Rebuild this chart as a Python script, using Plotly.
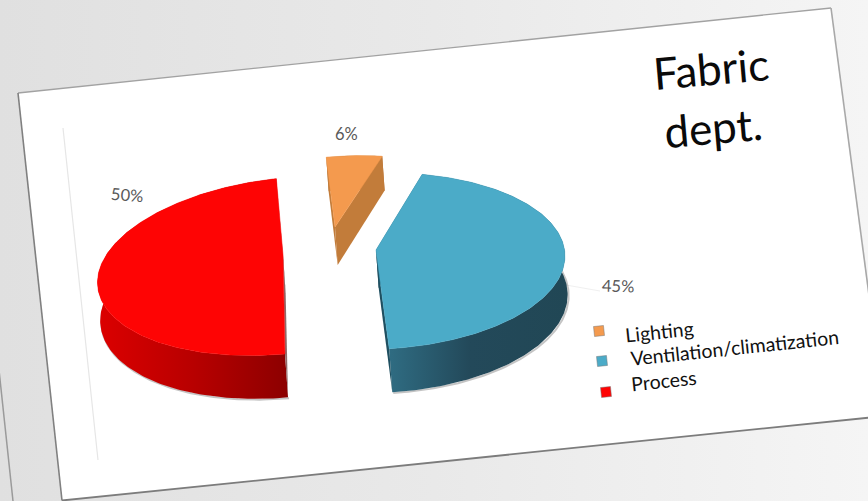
import math
import plotly.graph_objects as go

# Chart content
categories = ["Lighting", "Ventilation/climatization", "Process"]
shares = [6, 45, 50]
value_labels = ["6%", "45%", "50%"]
title_lines = ["Fabric", "dept."]

# Projection of the tilted pie onto the slide (pixel space)
W, H = 868, 501
RX, RY = 190.0, 88.0      # radii of the pie disc
PERSP = 0.128             # nearer edge of the disc draws larger
DEPTH = 38.0              # thickness of the pie

# Per-slice exploded centre, angle correction, disc scale and tilt
slice_view = [
    dict(cx=335, cy=227, dang=-1.0, scale=0.89, tilt=5.0),
    dict(cx=376, cy=250, dang=-4.4, scale=0.985, tilt=2.0),
    dict(cx=283, cy=255, dang=0.7, scale=0.98, tilt=6.5),
]
top_colors = ["#f49a4e", "#4babc8", "#fe0404"]
side_scales = [
    [[0, "#c27c3a"], [1, "#b87436"]],
    [[0, "#2f6c82"], [0.45, "#23495a"], [1, "#214755"]],
    [[0, "#dc0000"], [0.5, "#b80000"], [1, "#8c0000"]],
]
edge_colors = ["#c27c3a", "#1f4f60", "#8f6a6a"]


def project(view, theta_deg, r):
    th = math.radians(theta_deg + view["dang"])
    X = r * view["scale"] * math.sin(th)
    Y = -r * view["scale"] * math.cos(th)
    s = 1.0 / (1.0 - PERSP * Y)
    x, y = RX * X * s, RY * Y * s
    t = math.radians(view["tilt"])
    c, sn = math.cos(t), math.sin(t)
    return view["cx"] + x * c + y * sn, view["cy"] - x * sn + y * c, s


def drop(pt):
    x, y, s = pt
    return x + DEPTH * s * 0.07, y + DEPTH * s


def poly(points, **kw):
    xs = [p[0] for p in points] + [points[0][0]]
    ys = [p[1] for p in points] + [points[0][1]]
    return go.Scatter(x=xs, y=ys, mode="lines", fill="toself",
                      hoverinfo="skip", showlegend=False, **kw)


def stroke(points, color, width):
    return go.Scatter(x=[p[0] for p in points], y=[p[1] for p in points], mode="lines",
                      line=dict(color=color, width=width),
                      hoverinfo="skip", showlegend=False)


fig = go.Figure()

# slide backdrop and the white card with its edges
fig.add_trace(poly(
    [(0, 0), (W, 0), (W, H), (0, H)], line=dict(width=0), fillcolor="#e8e8e8",
    fillgradient=dict(type="horizontal", start=0, stop=W,
                      colorscale=[[0, "#e0e0e0"], [0.5, "#e9e9e9"], [1, "#f5f5f5"]])))
fig.add_trace(stroke([(-1, 370), (13, 501)], "#9a9a9a", 1.5))
card = [(18, 93), (831, 8), (885, 416), (62, 500.5)]
fig.add_trace(poly(card, line=dict(width=0), fillcolor="#ffffff"))
fig.add_trace(stroke(card[:2], "#a2a2a2", 1.3))
fig.add_trace(stroke(card[1:3], "#a8a8a8", 1.6))
fig.add_trace(stroke(card[2:4], "#7c7c7c", 1.8))
fig.add_trace(stroke([card[3], card[0]], "#808080", 1.6))
fig.add_trace(stroke([(63, 128), (98, 460)], "#e6e6e6", 1.2))
fig.add_trace(stroke([(566, 285), (600, 291)], "#f0f0f0", 1))

total = sum(shares)
start = 0.0
for i, val in enumerate(shares):
    view = slice_view[i]
    sweep = val / total * 360.0
    n = max(8, int(sweep))
    arc = [project(view, start + sweep * k / n, 1.0) for k in range(n + 1)]
    apex = project(view, 0, 0.0)
    low_arc = [drop(p) for p in arc]

    # soft contact shadow along the lower rim
    rim = [p for p, q in zip(low_arc, arc) if q[2] > 0.93]
    fig.add_trace(stroke([(p[0] + 1, p[1] + 0.8) for p in rim], "rgba(60,60,60,0.3)", 2))

    # outer wall, shaded left to right
    wall = [p[:2] for p in arc] + low_arc[::-1]
    xs = [p[0] for p in wall]
    fig.add_trace(poly(
        wall, line=dict(width=0), fillcolor=top_colors[i],
        fillgradient=dict(type="horizontal", colorscale=side_scales[i],
                          start=min(xs), stop=max(xs))))

    # the two cut faces
    for p in (arc[0], arc[-1]):
        fig.add_trace(poly([apex[:2], p[:2], drop(p), drop(apex)],
                           line=dict(width=0), fillcolor=edge_colors[i]))

    # top face
    fig.add_trace(poly([apex[:2]] + [p[:2] for p in arc],
                       line=dict(width=0.5, color=top_colors[i]),
                       fillcolor=top_colors[i]))
    start += sweep

# legend swatches
swatch_xy = [(599, 331), (602, 361), (606, 392)]
for (sx, sy), col, name in zip(swatch_xy, top_colors, categories):
    fig.add_trace(go.Scatter(
        x=[sx], y=[sy], mode="markers", name=name, showlegend=False,
        hoverinfo="skip",
        marker=dict(symbol="square", size=10, color=col, angle=-6,
                    line=dict(width=1, color="rgba(120,120,120,0.5)"))))

annotations = []


def text(x, y, s, size, color, angle):
    annotations.append(dict(
        x=x, y=y, xref="x", yref="y", text=s, showarrow=False, textangle=angle,
        font=dict(family="Lato, Carlito, sans-serif", size=size, color=color)))


for (lx, ly), lab, ang in zip([(346, 134), (618, 286), (127, 195)], value_labels, [0, 2, 4]):
    text(lx, ly, lab, 16.5, "#595959", ang)
for (lx, ly), cat in zip([(659, 331), (734, 347), (664, 380)], categories):
    text(lx, ly, cat, 19.5, "#111111", -6)
text(711, 68, title_lines[0], 44, "#0a0a0a", -5)
text(713, 127, title_lines[1], 44, "#0a0a0a", -5)

fig.update_layout(
    width=W, height=H, margin=dict(l=0, r=0, t=0, b=0),
    paper_bgcolor="#e8e8e8", plot_bgcolor="rgba(0,0,0,0)",
    xaxis=dict(range=[0, W], visible=False, fixedrange=True),
    yaxis=dict(range=[H, 0], visible=False, fixedrange=True),
    annotations=annotations, showlegend=False,
)
fig.write_html("out.html")
